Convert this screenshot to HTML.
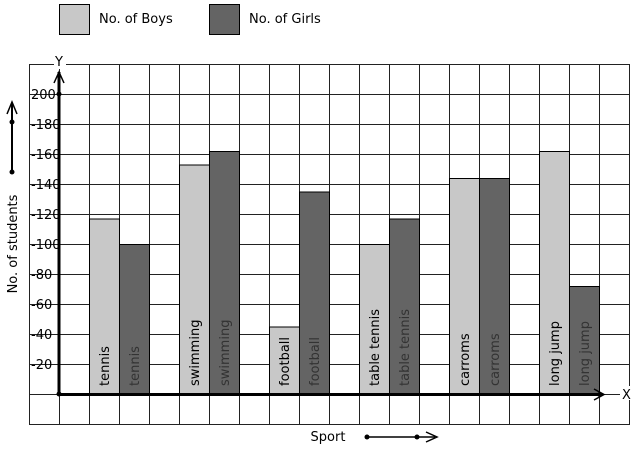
<!DOCTYPE html>
<html><head><meta charset="utf-8"><style>
html,body{margin:0;padding:0;background:#fff;}
svg{display:block;font-family:"DejaVu Sans","Liberation Sans",sans-serif;}
</style></head><body>
<svg id="chart" width="637" height="450" viewBox="0 0 637 450">
<g id="legend">
<rect x="59.5" y="4.5" width="30" height="30" fill="#c8c8c8" stroke="#000"/>
<text x="99" y="23" font-size="13">No. of Boys</text>
<rect x="209.5" y="4.5" width="30" height="30" fill="#646464" stroke="#000"/>
<text x="249" y="23" font-size="13">No. of Girls</text>
</g>
<g id="grid"></g>
<g id="bars"></g>
<g id="axes"></g>
</svg>
<script>
const categories=["tennis","swimming","football","table tennis","carroms","long jump"];
const boys=[117,153,45,100,144,162];
const girls=[100,162,135,117,144,72];
const yTicks=[20,40,60,80,100,120,140,160,180,200];
const NS="http://www.w3.org/2000/svg";
const y0=394, k=1.5;
function yS(v){return y0-v*k;}
function xS(i){return 89+90*i;}
function mk(tag,attrs,parent,txt){const e=document.createElementNS(NS,tag);for(const a in attrs)e.setAttribute(a,attrs[a]);if(txt!==undefined)e.textContent=txt;parent.appendChild(e);return e;}
const grid=document.getElementById('grid'),bars=document.getElementById('bars'),axes=document.getElementById('axes');
for(let x=29;x<=629;x+=30){const l=mk('line',{x1:x+.5,y1:64,x2:x+.5,y2:424,stroke:'#222','stroke-width':1},grid);

}
for(let y=64;y<=424;y+=30){const l=mk('line',{x1:29,y1:y+.5,x2:630,y2:y+.5,stroke:'#222','stroke-width':1},grid);

}
categories.forEach((c,i)=>{
 const x=xS(i);
 const b=mk('rect',{x:x+.5,y:yS(boys[i])+.5,width:30,height:boys[i]*k,fill:'#c8c8c8',stroke:'#000'},bars);
 
 
 const g=mk('rect',{x:x+30.5,y:yS(girls[i])+.5,width:30,height:girls[i]*k,fill:'#646464',stroke:'#000'},bars);
 
 
 const t1=mk('text',{x:0,y:0,'font-size':13,fill:'#000',transform:`translate(${x+20},386) rotate(-90)`},bars,c);
 
 
 const t2=mk('text',{x:0,y:0,'font-size':13,fill:'#333',transform:`translate(${x+50},386) rotate(-90)`},bars,c);
 
 
});
yTicks.forEach(v=>{
 const t=mk('text',{x:31,y:yS(v)+5,'font-size':13,fill:'#000'},axes,(v===200?'200':'-'+v));
 
 
});
// y axis
let e=mk('line',{x1:59,y1:394,x2:59,y2:72,stroke:'#000','stroke-width':3},axes);


mk('path',{d:'M54,83 L59,72 L64,83',fill:'none',stroke:'#000','stroke-width':1.5},axes);
mk('circle',{cx:59,cy:94,r:2.5},axes);
mk('circle',{cx:59,cy:394,r:2.5},axes);
e=mk('rect',{x:54,y:55,width:12,height:14,fill:'#fff'},axes);
e=mk('text',{x:55,y:66,'font-size':13},axes,'Y');


// x axis
e=mk('line',{x1:59,y1:394.5,x2:600,y2:394.5,stroke:'#000','stroke-width':3},axes);


mk('path',{d:'M594,389 L604,394.5 L594,400 M585,394.5 L604,394.5',fill:'none',stroke:'#000','stroke-width':1.5},axes);
mk('circle',{cx:599,cy:394.5,r:2},axes);
e=mk('rect',{x:620,y:386,width:12,height:14,fill:'#fff'},axes);
e=mk('text',{x:622,y:399,'font-size':13},axes,'X');


// y title
e=mk('text',{x:0,y:0,'font-size':13,'text-anchor':'middle',transform:'translate(17,244) rotate(-90)'},axes,'No. of students');


mk('line',{x1:12,y1:172,x2:12,y2:104,stroke:'#000','stroke-width':2},axes);
mk('path',{d:'M7,114 L12,102 L17,114',fill:'none',stroke:'#000','stroke-width':1.5},axes);
mk('circle',{cx:12,cy:122,r:2.5},axes);
mk('circle',{cx:12,cy:172,r:2.5},axes);
// x title
e=mk('text',{x:328,y:441,'font-size':13,'text-anchor':'middle'},axes,'Sport');


mk('line',{x1:367,y1:437,x2:435,y2:437,stroke:'#000','stroke-width':1.5},axes);
mk('path',{d:'M426,432 L437,437 L426,442',fill:'none',stroke:'#000','stroke-width':1.5},axes);
mk('circle',{cx:367,cy:437,r:2.5},axes);
mk('circle',{cx:417,cy:437,r:2.5},axes);
</script>
</body></html>
